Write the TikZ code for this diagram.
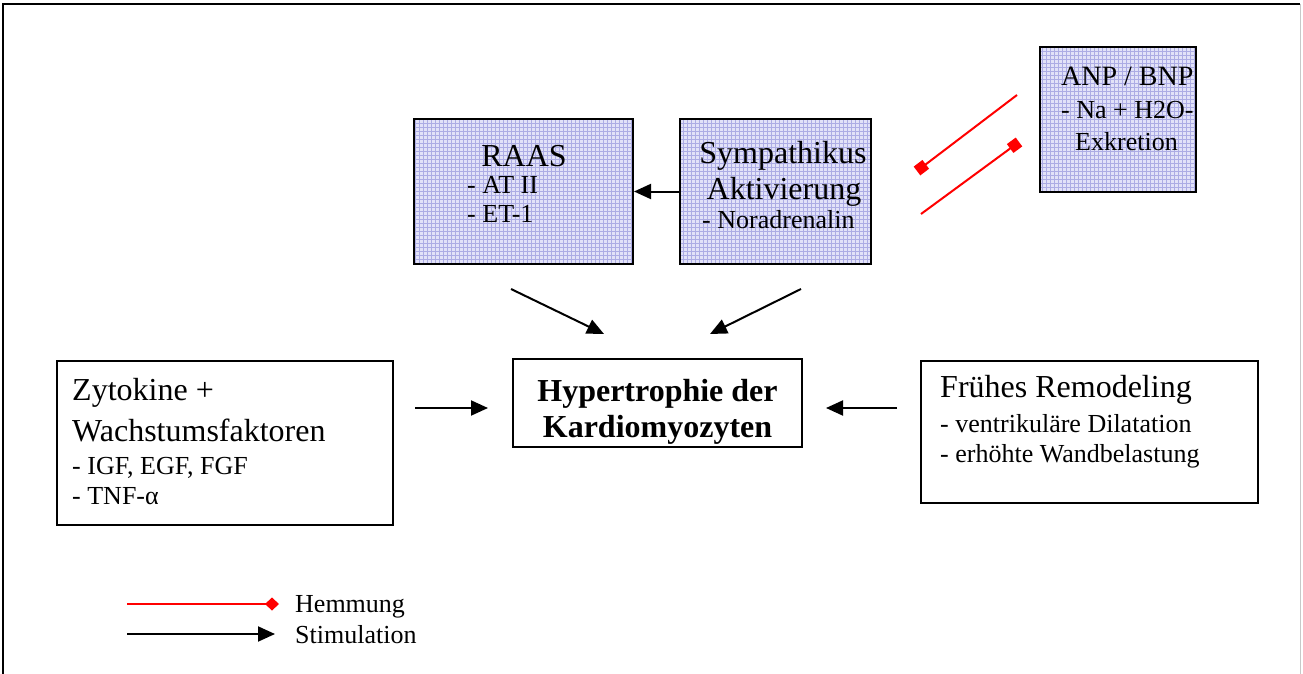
\documentclass[tikz,border=0pt]{standalone}
\usepackage{fontspec}
\setmainfont{Liberation Serif}
\usetikzlibrary{arrows.meta}
\definecolor{gridbase}{RGB}{226,226,248}
\definecolor{gridline}{RGB}{172,172,228}
\definecolor{inhib}{RGB}{255,0,0}
\definecolor{framegray}{RGB}{200,200,200}
\tikzset{
  big/.style={font=\fontsize{32}{37}\selectfont, inner sep=0pt},
  mid/.style={font=\fontsize{28}{33}\selectfont, inner sep=0pt},
  small/.style={font=\fontsize{26}{30}\selectfont, inner sep=0pt},
  plainbox/.style={draw, line width=2pt, inner sep=0pt, fill=white},
  hatchbox/.style={plainbox, fill=gridbase,
    path picture={\draw[gridline, line width=1pt, step=4pt]
      (path picture bounding box.south west) grid (path picture bounding box.north east);}},
  stim/.style={line width=2pt, -{Triangle[length=17pt,width=15pt]}},
  hemm/.style={inhib, line width=2pt, -{Square[length=11pt,width=11pt]}},
}
\begin{document}
\begin{tikzpicture}[x=1pt,y=-1pt]
\useasboundingbox (0,0) rectangle (1303,674);
% outer frame, open at the bottom
\draw[line width=2.5pt] (3,674) -- (3,4) -- (1300,4);
\draw[framegray, line width=1pt] (1300,4) -- (1300,674);

% boxes
\node[hatchbox, minimum width=219pt, minimum height=144pt] (raas) at (523.5,191.5) {};
\node[hatchbox, minimum width=191pt, minimum height=144pt] (symp) at (775.5,191.5) {};
\node[hatchbox, minimum width=156pt, minimum height=144pt] (anp) at (1118,119.5) {};
\node[plainbox, minimum width=289pt, minimum height=88pt] (hyp) at (657.5,403) {};
\node[plainbox, minimum width=336pt, minimum height=164pt] (zyt) at (225,443) {};
\node[plainbox, minimum width=337pt, minimum height=142pt] (fru) at (1089.5,432) {};

% box texts
\node[big, anchor=base] (raas-t0) at (524,166) {RAAS};
\node[small, anchor=base west] (raas-t1) at (467,193) {- AT II};
\node[small, anchor=base west] (raas-t2) at (467,222) {- ET-1};

\node[big, anchor=base] (symp-t0) at (783,163) {Sympathikus};
\node[big, anchor=base] (symp-t1) at (784,199) {Aktivierung};
\node[small, anchor=base west] (symp-t2) at (702,228) {- Noradrenalin};

\node[mid, anchor=base west] (anp-t0) at (1061,86) {ANP / BNP};
\node[small, anchor=base west] (anp-t1) at (1061,119) {- Na + H2O-};
\node[small, anchor=base west] (anp-t2) at (1075,150) {Exkretion};

\node[big, anchor=base, font=\fontsize{32}{37}\selectfont\bfseries] (hyp-t0) at (657.5,401) {Hypertrophie der};
\node[big, anchor=base, font=\fontsize{32}{37}\selectfont\bfseries] (hyp-t1) at (657.5,437) {Kardiomyozyten};

\node[big, anchor=base west] (zyt-t0) at (72,400) {Zytokine +};
\node[big, anchor=base west] (zyt-t1) at (72,441) {Wachstumsfaktoren};
\node[small, anchor=base west] (zyt-t2) at (72,474) {- IGF, EGF, FGF};
\node[small, anchor=base west] (zyt-t3) at (72,504) {- TNF-α};

\node[big, anchor=base west] (fru-t0) at (940,397) {Frühes Remodeling};
\node[small, anchor=base west] (fru-t1) at (940,432) {- ventrikuläre Dilatation};
\node[small, anchor=base west] (fru-t2) at (940,462) {- erhöhte Wandbelastung};

% stimulation arrows
\draw[stim] (symp.west) -- (raas.east);
\coordinate (raasout) at (511,289);
\coordinate (hypinl) at (604,334);
\coordinate (sympout) at (801,289);
\coordinate (hypinr) at (710,334);
\draw[stim] (raasout) -- (hypinl);
\draw[stim] (sympout) -- (hypinr);
\coordinate (zytout) at (415,408);
\coordinate (hypinw) at (488,408);
\coordinate (fruout) at (897,408);
\coordinate (hypine) at (826,408);
\draw[stim] (zytout) -- (hypinw);
\draw[stim] (fruout) -- (hypine);

% inhibition between ANP/BNP and sympathetic activation
\coordinate (anpout) at (1017,95);
\coordinate (sympin) at (917,171);
\coordinate (sympout2) at (921,214);
\coordinate (anpin) at (1019,142);
\draw[hemm] (anpout) -- (sympin);
\draw[hemm] (sympout2) -- (anpin);

% legend
\coordinate (lh0) at (127,604);
\coordinate (lh1) at (279,604);
\coordinate (ls0) at (127,634);
\coordinate (ls1) at (275,634);
\draw[inhib, line width=2pt, -{Diamond[length=14pt,width=13pt]}] (lh0) -- (lh1);
\draw[stim] (ls0) -- (ls1);
\node[small, anchor=base west] (lg-h) at (295,612) {Hemmung};
\node[small, anchor=base west] (lg-s) at (295,643) {Stimulation};
\end{tikzpicture}
\end{document}
